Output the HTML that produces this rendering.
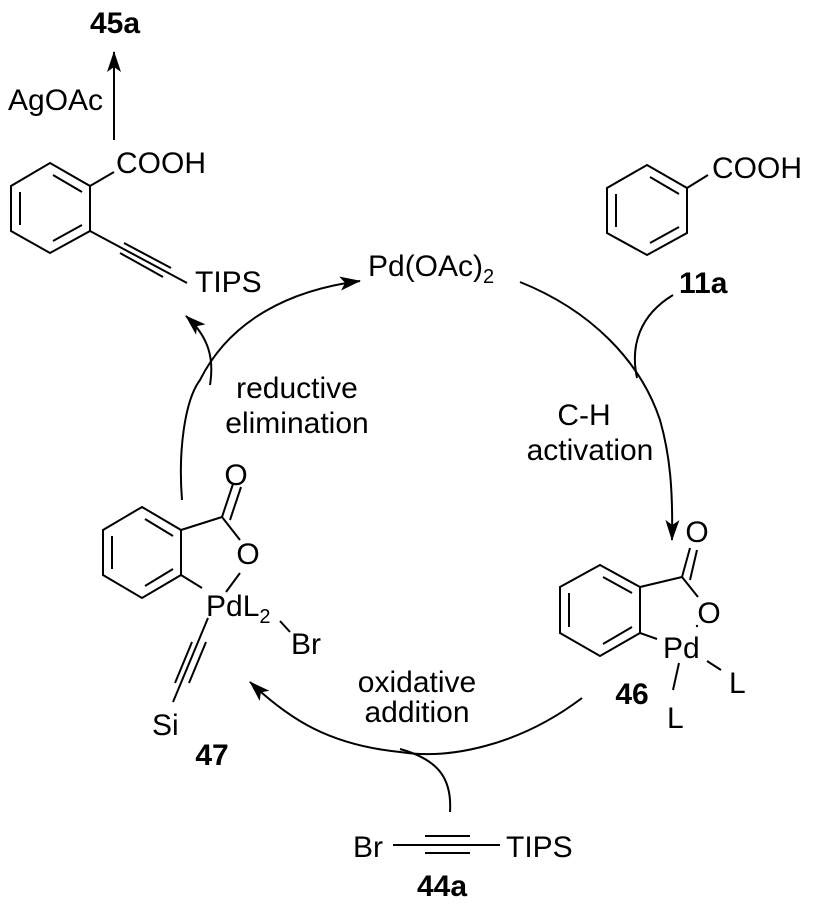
<!DOCTYPE html>
<html><head><meta charset="utf-8"><style>
html,body{margin:0;padding:0;background:#fff}
svg{display:block}
text{font-family:"Liberation Sans",Arial,sans-serif;font-size:30px;fill:#000}
.b{font-weight:bold}
</style></head><body>
<svg width="816" height="916" viewBox="0 0 816 916" xmlns="http://www.w3.org/2000/svg">
<defs>
<marker id="ah2" markerWidth="22" markerHeight="14" refX="20" refY="7" orient="auto" markerUnits="userSpaceOnUse">
<path d="M0,0 L21,7 L0,14 L5,7 Z" fill="#000"/>
</marker>
</defs>
<g stroke="#000" stroke-width="2" fill="none">
<!-- top-left product -->
<polygon points="50,163 90,186 90,231 50,253 11,231 11,186"/>
<line x1="53" y1="175" x2="82" y2="192"/>
<line x1="20" y1="192" x2="20" y2="225"/>
<line x1="53" y1="241" x2="82" y2="225"/>
<line x1="90" y1="186" x2="114" y2="172"/>
<line x1="114" y1="140" x2="114" y2="52" marker-end="url(#ah2)"/>
<line x1="90" y1="231" x2="187" y2="283"/>
<line x1="124" y1="243" x2="171" y2="268"/>
<line x1="120" y1="253" x2="163" y2="277"/>
<!-- 11a -->
<polygon points="647,165 687,188 687,233 647,255 607,233 607,188"/>
<line x1="650" y1="177" x2="679" y2="194"/>
<line x1="616" y1="194" x2="616" y2="227"/>
<line x1="650" y1="243" x2="679" y2="227"/>
<line x1="687" y1="188" x2="708" y2="175"/>
<!-- cycle arcs -->
<path d="M182,500 C178,450 185,400 200,380 C230,320 290,290 360,281" marker-end="url(#ah2)"/>
<path d="M210,385 C214,360 210,338 186,316" marker-end="url(#ah2)"/>
<path d="M520,282 C590,310 640,360 660,420 C670,455 673,490 672,540" marker-end="url(#ah2)"/>
<path d="M673,295 C640,315 630,345 637,378"/>
<path d="M582,698 C520,745 450,760 400,752 C330,745 290,720 250,682" marker-end="url(#ah2)"/>
<path d="M450,812 C452,780 440,760 400,749"/>
<!-- 47 -->
<polygon points="142,507 181,530 181,575 142,598 103,575 103,530"/>
<line x1="145" y1="519" x2="173" y2="536"/>
<line x1="112" y1="536" x2="112" y2="569"/>
<line x1="145" y1="586" x2="173" y2="569"/>
<line x1="181" y1="530" x2="222" y2="517"/>
<line x1="222" y1="517" x2="233" y2="484"/>
<line x1="230" y1="520" x2="241" y2="487"/>
<line x1="222" y1="517" x2="240" y2="540"/>
<line x1="240" y1="573" x2="226" y2="592"/>
<line x1="181" y1="575" x2="202" y2="588"/>
<line x1="280" y1="621" x2="290" y2="632"/>
<line x1="208" y1="618" x2="173" y2="702"/>
<line x1="192" y1="642" x2="175" y2="683"/>
<line x1="206" y1="642" x2="189" y2="683"/>
<!-- 46 -->
<polygon points="600,565 640,587 640,633 600,656 560,633 560,587"/>
<line x1="603" y1="577" x2="632" y2="593"/>
<line x1="569" y1="593" x2="569" y2="627"/>
<line x1="603" y1="644" x2="632" y2="627"/>
<line x1="640" y1="587" x2="682" y2="577"/>
<line x1="682" y1="577" x2="690" y2="548"/>
<line x1="690" y1="580" x2="697" y2="550"/>
<line x1="682" y1="577" x2="698" y2="597"/>
<line x1="640" y1="633" x2="657" y2="639"/>
<line x1="707" y1="661" x2="721" y2="670"/>
<line x1="679" y1="663" x2="673" y2="690"/>
<!-- 44a -->
<line x1="393" y1="845" x2="500" y2="845"/>
<line x1="425" y1="836" x2="470" y2="836"/>
<line x1="425" y1="853" x2="470" y2="853"/>
</g>
<circle cx="697" cy="626" r="1.2" fill="#000"/>
<text class="b" x="90" y="33">45a</text>
<text x="8" y="110">AgOAc</text>
<text x="116" y="173">COOH</text>
<text x="195" y="292">TIPS</text>
<text x="368" y="276">Pd(OAc)<tspan font-size="20" dy="7">2</tspan></text>
<text x="712" y="178">COOH</text>
<text class="b" x="679" y="293">11a</text>
<text x="297" y="398" text-anchor="middle">reductive</text>
<text x="297" y="433" text-anchor="middle">elimination</text>
<text x="584" y="425" text-anchor="middle">C-H</text>
<text x="590" y="460" text-anchor="middle">activation</text>
<text x="236" y="485" text-anchor="middle">O</text>
<text x="248" y="564" text-anchor="middle">O</text>
<text x="206" y="616">PdL<tspan font-size="20" dy="7">2</tspan></text>
<text x="291" y="654">Br</text>
<text x="152" y="735">Si</text>
<text class="b" x="212" y="765" text-anchor="middle">47</text>
<text x="697" y="542" text-anchor="middle">O</text>
<text x="709" y="623" text-anchor="middle">O</text>
<text x="663" y="658">Pd</text>
<text x="729" y="693">L</text>
<text x="667" y="728">L</text>
<text class="b" x="632" y="704" text-anchor="middle">46</text>
<text x="417" y="692" text-anchor="middle">oxidative</text>
<text x="417" y="722" text-anchor="middle">addition</text>
<text x="353" y="857">Br</text>
<text x="506" y="857">TIPS</text>
<text class="b" x="442" y="896" text-anchor="middle">44a</text>
</svg>
</body></html>
